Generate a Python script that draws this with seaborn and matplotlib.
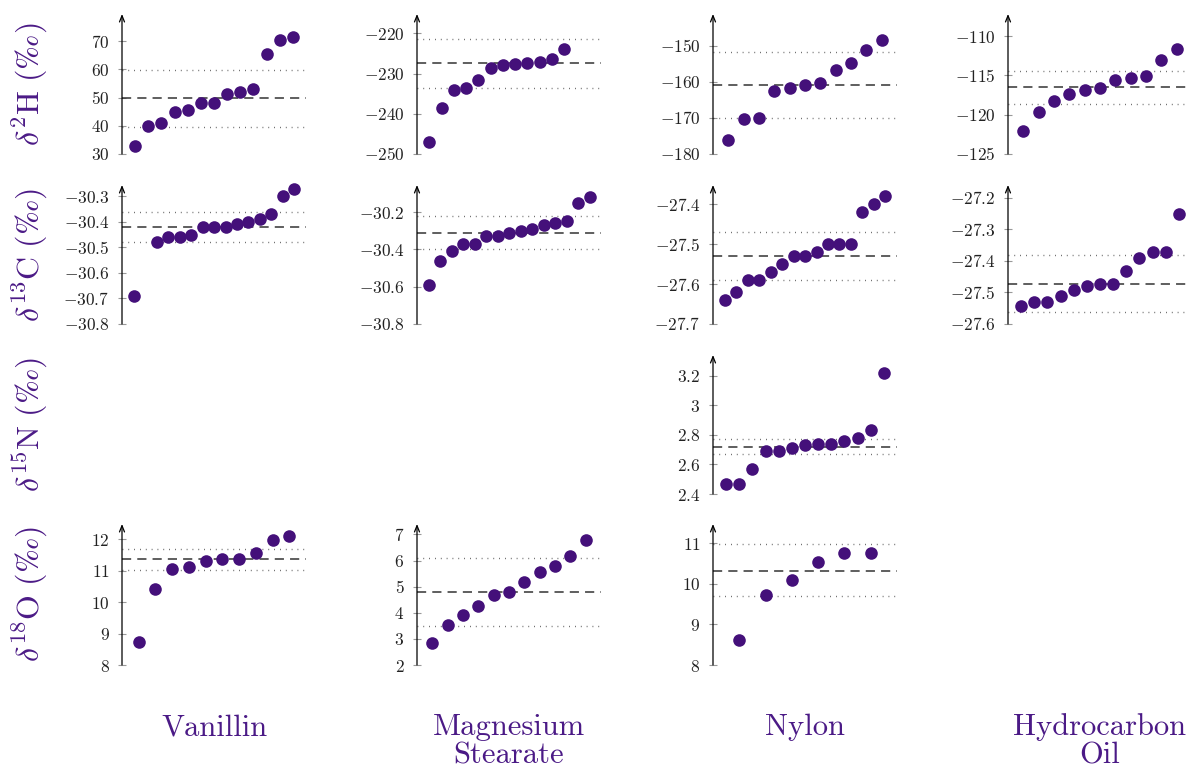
import matplotlib
matplotlib.use('Agg')
import matplotlib.pyplot as plt
import seaborn as sns
import pandas as pd
from matplotlib.ticker import FuncFormatter, FixedLocator

sns.set_style('white')
plt.rcParams['mathtext.fontset'] = 'cm'
plt.rcParams['font.family'] = ['DejaVu Serif']
plt.rcParams['axes.unicode_minus'] = True

# ---------------- data ----------------
columns = ['Vanillin', 'Magnesium\nStearate', 'Nylon', 'Hydrocarbon\nOil']
row_labels = [r'$\delta^{2}\mathrm{H}\ (\mathrm{‰})$', r'$\delta^{13}\mathrm{C}\ (\mathrm{‰})$',
              r'$\delta^{15}\mathrm{N}\ (\mathrm{‰})$', r'$\delta^{18}\mathrm{O}\ (\mathrm{‰})$']

# Vanillin
van_d2H_x = [1, 2, 3, 4, 5, 6, 7, 8, 9, 10, 11, 12, 13]
van_d2H = [33.0, 40.0, 41.0, 45.0, 45.7, 48.0, 48.0, 51.4, 52.0, 53.0, 65.4, 70.4, 71.6]
van_d2H_ref = [49.8, 39.6, 59.9]
van_d2H_ticks = [30, 40, 50, 60, 70]

van_d13C_x = [1, 3, 4, 5, 6, 7, 8, 9, 10, 11, 12, 13, 14, 15]
van_d13C = [-30.69, -30.48, -30.46, -30.46, -30.45, -30.42, -30.42, -30.42,
            -30.41, -30.40, -30.39, -30.37, -30.30, -30.27]
van_d13C_ref = [-30.42, -30.48, -30.36]
van_d13C_ticks = [-30.8, -30.7, -30.6, -30.5, -30.4, -30.3]

van_d18O_x = [1, 2, 3, 4, 5, 6, 7, 8, 9, 10]
van_d18O = [8.74, 10.42, 11.05, 11.13, 11.32, 11.36, 11.39, 11.56, 11.99, 12.12]
van_d18O_ref = [11.37, 11.02, 11.70]
van_d18O_ticks = [8, 9, 10, 11, 12]

# Magnesium stearate
mg_d2H_x = [1, 2, 3, 4, 5, 6, 7, 8, 9, 10, 11, 12]
mg_d2H = [-247.0, -238.6, -234.0, -233.5, -231.6, -228.5, -227.9, -227.7,
          -227.5, -227.1, -226.4, -223.8]
mg_d2H_ref = [-227.4, -233.5, -221.5]
mg_d2H_ticks = [-250, -240, -230, -220]

mg_d13C_x = [1, 2, 3, 4, 5, 6, 7, 8, 9, 10, 11, 12, 13, 14, 15]
mg_d13C = [-30.59, -30.46, -30.41, -30.37, -30.37, -30.33, -30.33, -30.31,
           -30.30, -30.29, -30.27, -30.26, -30.25, -30.15, -30.12]
mg_d13C_ref = [-30.31, -30.40, -30.22]
mg_d13C_ticks = [-30.8, -30.6, -30.4, -30.2]

mg_d18O_x = [1, 2, 3, 4, 5, 6, 7, 8, 9, 10, 11]
mg_d18O = [2.86, 3.55, 3.90, 4.27, 4.67, 4.80, 5.16, 5.55, 5.78, 6.19, 6.80]
mg_d18O_ref = [4.80, 3.48, 6.11]
mg_d18O_ticks = [2, 3, 4, 5, 6, 7]

# Nylon
ny_d2H_x = [1, 2, 3, 4, 5, 6, 7, 8, 9, 10, 11]
ny_d2H = [-176.2, -170.3, -170.1, -162.5, -161.6, -160.9, -160.2, -156.8,
          -154.9, -151.1, -148.4]
ny_d2H_ref = [-160.9, -170.0, -151.8]
ny_d2H_ticks = [-180, -170, -160, -150]

ny_d13C_x = [1, 2, 3, 4, 5, 6, 7, 8, 9, 10, 11, 12, 13, 14, 15]
ny_d13C = [-27.64, -27.62, -27.59, -27.59, -27.57, -27.55, -27.53, -27.53,
           -27.52, -27.50, -27.50, -27.50, -27.42, -27.40, -27.38]
ny_d13C_ref = [-27.53, -27.59, -27.47]
ny_d13C_ticks = [-27.7, -27.6, -27.5, -27.4]

ny_d15N_x = [1, 2, 3, 4, 5, 6, 7, 8, 9, 10, 11, 12, 13]
ny_d15N = [2.47, 2.47, 2.57, 2.69, 2.69, 2.71, 2.73, 2.74, 2.74, 2.76, 2.78, 2.83, 3.22]
ny_d15N_ref = [2.72, 2.67, 2.77]
ny_d15N_ticks = [2.4, 2.6, 2.8, 3.0, 3.2]

ny_d18O_x = [1, 2, 3, 4, 5, 6]
ny_d18O = [8.62, 9.73, 10.10, 10.54, 10.75, 10.75]
ny_d18O_ref = [10.32, 9.70, 10.97]
ny_d18O_ticks = [8, 9, 10, 11]

# Hydrocarbon oil
hc_d2H_x = [1, 2, 3, 4, 5, 6, 7, 8, 9, 10, 11]
hc_d2H = [-122.1, -119.6, -118.2, -117.4, -116.8, -116.6, -115.6, -115.4,
          -115.1, -113.1, -111.6]
hc_d2H_ref = [-116.5, -118.7, -114.45]
hc_d2H_ticks = [-125, -120, -115, -110]

hc_d13C_x = [1, 2, 3, 4, 5, 6, 7, 8, 9, 10, 11, 12, 13]
hc_d13C = [-27.542, -27.531, -27.531, -27.511, -27.491, -27.481, -27.472, -27.472,
           -27.431, -27.392, -27.371, -27.371, -27.252]
hc_d13C_ref = [-27.472, -27.561, -27.382]
hc_d13C_ticks = [-27.6, -27.5, -27.4, -27.3, -27.2]

# (row, col, x, y, ref, ticks, ymax, xmax)
panels = [
    (0, 0, van_d2H_x, van_d2H, van_d2H_ref, van_d2H_ticks, 79.7, 14),
    (1, 0, van_d13C_x, van_d13C, van_d13C_ref, van_d13C_ticks, -30.256, 16),
    (3, 0, van_d18O_x, van_d18O, van_d18O_ref, van_d18O_ticks, 12.49, 11),
    (0, 1, mg_d2H_x, mg_d2H, mg_d2H_ref, mg_d2H_ticks, -215.2, 15),
    (1, 1, mg_d13C_x, mg_d13C, mg_d13C_ref, mg_d13C_ticks, -30.055, 16),
    (3, 1, mg_d18O_x, mg_d18O, mg_d18O_ref, mg_d18O_ticks, 7.4, 12),
    (0, 2, ny_d2H_x, ny_d2H, ny_d2H_ref, ny_d2H_ticks, -141.2, 12),
    (1, 2, ny_d13C_x, ny_d13C, ny_d13C_ref, ny_d13C_ticks, -27.352, 16),
    (2, 2, ny_d15N_x, ny_d15N, ny_d15N_ref, ny_d15N_ticks, 3.34, 14),
    (3, 2, ny_d18O_x, ny_d18O, ny_d18O_ref, ny_d18O_ticks, 11.47, 7),
    (0, 3, hc_d2H_x, hc_d2H, hc_d2H_ref, hc_d2H_ticks, -107.2, 12),
    (1, 3, hc_d13C_x, hc_d13C, hc_d13C_ref, hc_d13C_ticks, -27.16, 14),
]

# ---------------- layout ----------------
W, H = 1187, 771
DOT = '#44107a'
TXT = '#4b1a86'
col_left = [122, 417, 713, 1008]
row_top = [14, 185, 355, 524]
row_bot = [154, 324, 494, 665]
ax_w = 184

fig = plt.figure(figsize=(W / 100, H / 100), dpi=100)
fig.patch.set_facecolor('white')


def fmt(v, pos):
    return r'$%s$' % ('%g' % round(v, 4))


for r, c, xs, ys, ref, ticks, ymax, xmax in panels:
    ax = fig.add_axes([col_left[c] / W, 1 - row_bot[r] / H,
                       ax_w / W, (row_bot[r] - row_top[r]) / H])
    ax.set_facecolor('none')
    df = pd.DataFrame({'x': xs, 'y': ys})
    mean, lo, hi = ref
    ax.axhline(mean, color='#333333', lw=1.1, ls=(0, (6, 4)), zorder=1)
    ax.axhline(lo, color='#555555', lw=1.0, ls=(0, (0.6, 3.6)), zorder=1)
    ax.axhline(hi, color='#555555', lw=1.0, ls=(0, (0.6, 3.6)), zorder=1)
    sns.scatterplot(data=df, x='x', y='y', ax=ax, color=DOT, s=82,
                    linewidth=0, legend=False, zorder=3, clip_on=False)
    ax.set_xlim(0, xmax)
    ax.set_ylim(ticks[0], ymax)
    for s in ax.spines.values():
        s.set_visible(False)
    ax.set_xticks([])
    ax.yaxis.set_major_locator(FixedLocator(ticks))
    ax.yaxis.set_major_formatter(FuncFormatter(fmt))
    ax.tick_params(axis='y', direction='inout', length=6, width=0.8,
                   color='#999999', labelcolor='#222222', labelsize=12.5, pad=6,
                   left=True)
    ax.set_xlabel('')
    ax.set_ylabel('')
    ax.annotate('', xy=(0, 1), xytext=(0, 0), xycoords='axes fraction',
                textcoords='axes fraction',
                arrowprops=dict(arrowstyle='->,head_length=0.45,head_width=0.18',
                                lw=0.9, color='black', shrinkA=0, shrinkB=0))

for r, lab in enumerate(row_labels):
    yc = 1 - (row_top[r] + row_bot[r]) / 2 / H
    fig.text(30 / W, yc, lab, rotation=90, ha='center', va='center',
             fontsize=23, color=TXT)

for c, lab in enumerate(columns):
    xc = (col_left[c] + ax_w / 2) / W
    for i, line in enumerate(lab.split('\n')):
        fig.text(xc, 1 - (735 + 28 * i) / H, line, ha='center', va='baseline',
                 fontsize=22, color=TXT, family='cmr10')

fig.savefig('out.png', dpi=100, facecolor='white')
